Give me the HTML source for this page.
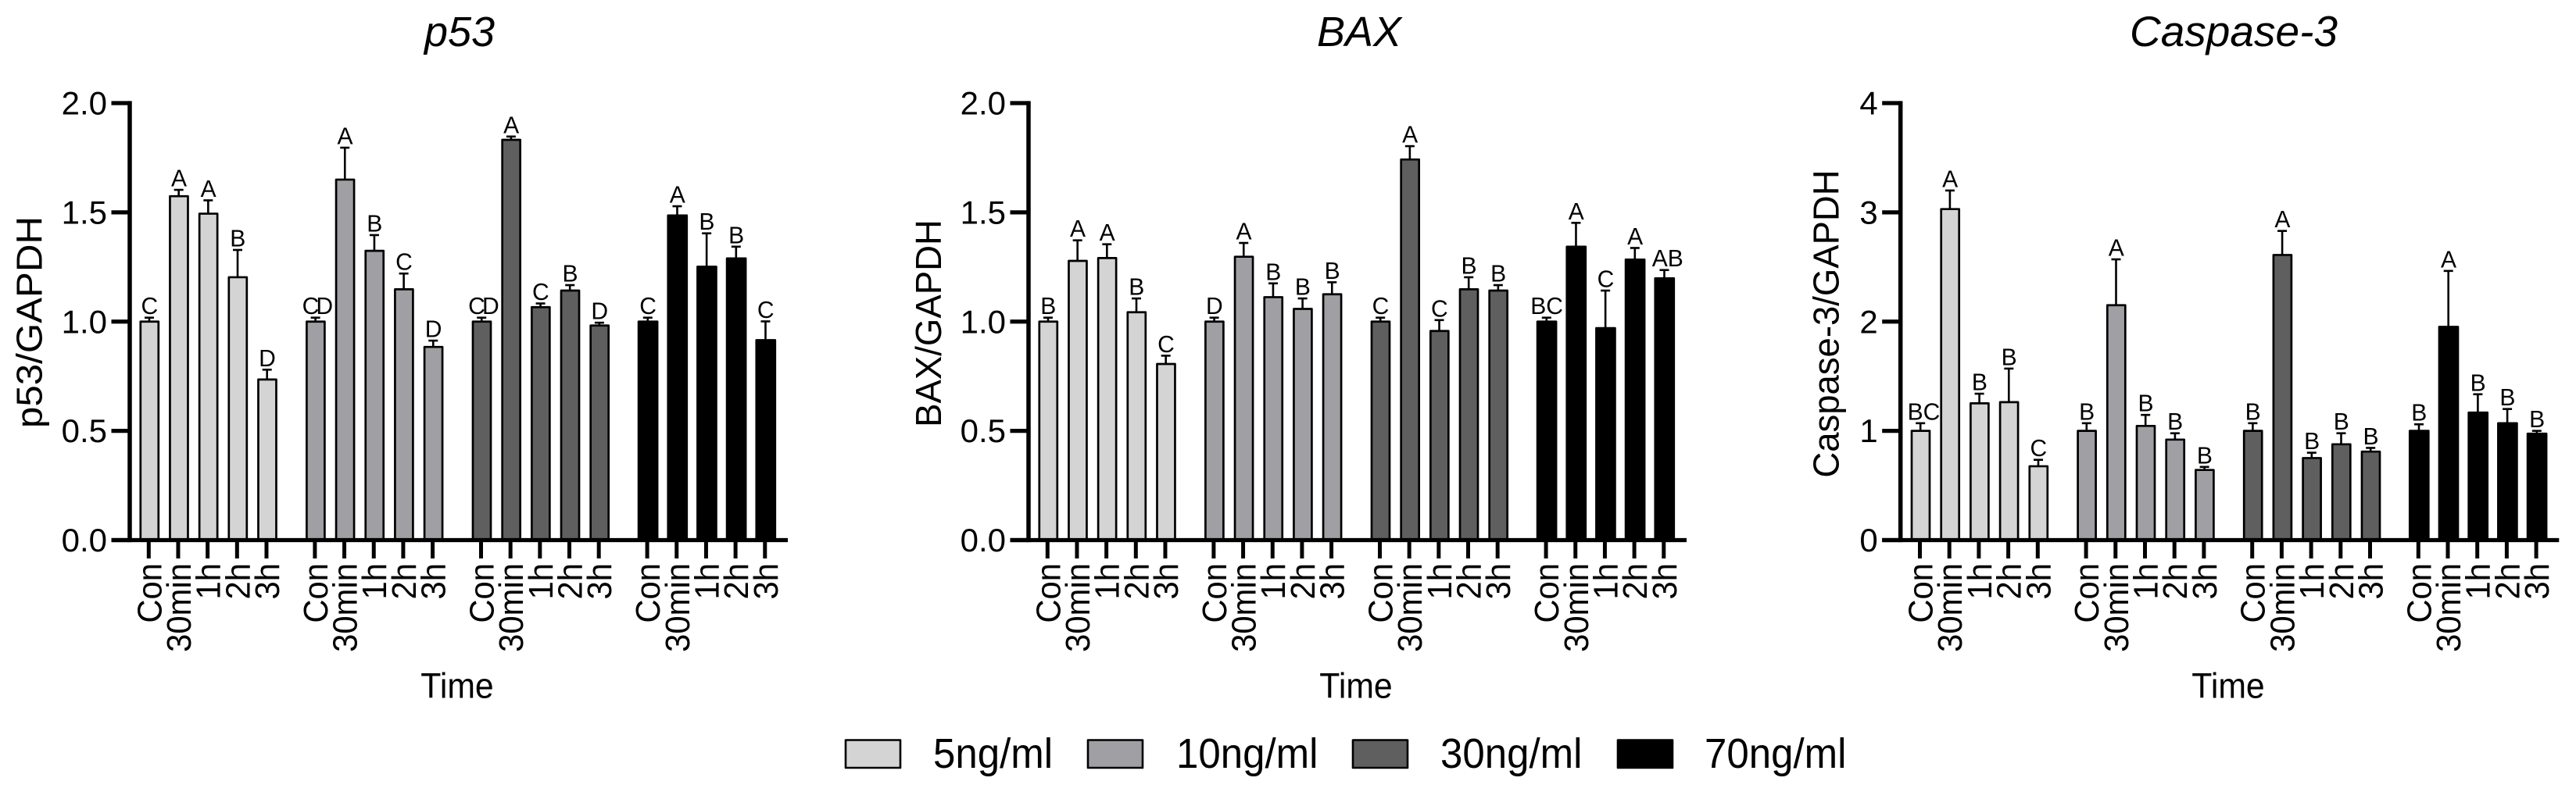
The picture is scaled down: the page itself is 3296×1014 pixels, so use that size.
<!DOCTYPE html>
<html lang="en">
<head>
<meta charset="utf-8">
<title>p53, BAX and Caspase-3 expression</title>
<style>
html,body{margin:0;padding:0;background:#fff;width:3296px;height:1014px;overflow:hidden}
svg{display:block}
text{font-family:"Liberation Sans",Arial,sans-serif;fill:#000}
</style>
</head>
<body>
<svg id="chart" xmlns="http://www.w3.org/2000/svg" width="3296" height="1014" viewBox="0 0 3296 1014"></svg>
<script>
const categories = ['Con','30min','1h','2h','3h','Con','30min','1h','2h','3h','Con','30min','1h','2h','3h','Con','30min','1h','2h','3h'];
const doses = ['5ng/ml','10ng/ml','30ng/ml','70ng/ml'];
const twoUnitTicks = ['0.0','0.5','1.0','1.5','2.0'];
const fourUnitTicks = ['0','1','2','3','4'];

const p53Values = [1.0,1.574,1.494,1.203,0.735, 1.0,1.65,1.324,1.148,0.884, 1.0,1.832,1.066,1.142,0.982, 1.0,1.486,1.251,1.289,0.915];
const p53Errors = [0.018,0.029,0.061,0.125,0.045, 0.018,0.146,0.072,0.072,0.029, 0.018,0.015,0.017,0.025,0.013, 0.018,0.042,0.153,0.054,0.086];
const p53Letters = ['C','A','A','B','D', 'CD','A','B','C','D', 'CD','A','C','B','D', 'C','A','B','B','C'];

const baxValues = [1.0,1.278,1.291,1.043,0.806, 1.0,1.297,1.112,1.058,1.125, 1.0,1.742,0.957,1.148,1.142, 1.0,1.343,0.97,1.284,1.198];
const baxErrors = [0.018,0.094,0.063,0.063,0.038, 0.018,0.063,0.063,0.048,0.055, 0.018,0.061,0.05,0.055,0.025, 0.018,0.109,0.172,0.053,0.038];
const baxLetters = ['B','A','A','B','C', 'D','A','B','B','B', 'C','A','C','B','B', 'BC','A','C','A','AB'];

const caspaseValues = [1.0,3.03,1.252,1.263,0.676, 1.0,2.15,1.045,0.92,0.642, 1.0,2.61,0.751,0.877,0.81, 1.0,1.952,1.167,1.07,0.974];
const caspaseErrors = [0.07,0.17,0.088,0.307,0.059, 0.07,0.42,0.101,0.058,0.028, 0.07,0.22,0.049,0.101,0.034, 0.06,0.512,0.168,0.13,0.026];
const caspaseLetters = ['BC','A','B','B','C', 'B','A','B','B','B', 'B','A','B','B','B', 'B','A','B','B','B'];

const SVG_NS = 'http://www.w3.org/2000/svg';
const root = document.getElementById('chart');
const doseColors = ['#d4d4d4','#a09fa3','#5f5f5f','#000000'];
const yTop = 132, yBase = 691.5;

function make(tag, attrs, parent, text) {
  const node = document.createElementNS(SVG_NS, tag);
  for (const key in attrs) node.setAttribute(key, attrs[key]);
  if (text !== undefined) node.textContent = text;
  parent.appendChild(node);
  return node;
}

function placeText(parent, x, y, rotation, stretch, size, anchor, content) {
  return make('text', {
    transform: 'translate(' + x + ',' + y + ') rotate(' + rotation + ') scale(' + stretch + ',1)',
    'font-size': size,
    'text-anchor': anchor
  }, parent, content);
}

function drawPanel(panel) {
  const g = make('g', {}, root);
  
  

  const xScale = i => panel.x0 + Math.floor(i / 5) * panel.groupStep + (i % 5) * panel.barStep;
  const yScale = v => yBase - (v / panel.yMax) * (yBase - yTop);

  const title = make('text', {x: panel.titleX, y: 59, 'font-size': panel.titleSize, 'font-style': 'italic', 'text-anchor': 'middle'}, g, panel.title);
  
  

  const yTitle = placeText(g, panel.yTitleX, panel.yTitleY, -90, panel.yTitleStretch, 46.5, 'middle', panel.yLabel);
  
  

  const xTitle = placeText(g, panel.timeX, 893.5, 0, 0.95, 45, 'middle', 'Time');
  
  

  panel.values.forEach((value, i) => {
    const cx = xScale(i);
    const top = yScale(value);
    const errTop = yScale(value + panel.errors[i]);
    const dose = Math.floor(i / 5);
    const barWidth = dose === 3 ? 24 : 23;

    const stem = make('line', {x1: cx + 0.7, x2: cx + 0.7, y1: top, y2: errTop, stroke: '#000', 'stroke-width': 2.6}, g);
    
    

    const cap = make('line', {x1: cx - 5.3, x2: cx + 6.7, y1: errTop, y2: errTop, stroke: '#000', 'stroke-width': 2.6}, g);
    
    

    const bar = make('rect', {x: cx + 1 - barWidth / 2, y: top, width: barWidth, height: yBase - top, fill: doseColors[dose], stroke: '#000', 'stroke-width': 2.7, 'stroke-linejoin': 'round'}, g);
    
    

    const letter = panel.letters[i];
    const sig = placeText(g, cx + 1 + (panel.labelNudge[i] || 0), errTop - 4.5, 0, 0.97, 31, 'middle', letter);
    if (letter === 'CD') sig.setAttribute('letter-spacing', '-4');
    
    

    const tick = make('line', {x1: cx, x2: cx, y1: yBase, y2: 715, stroke: '#000', 'stroke-width': 5}, g);
    
    

    const tickLabel = placeText(g, cx + 16, 721, -90, 0.95, 44, 'end', categories[i]);
    
    
  });

  const yAxis = make('line', {x1: panel.axisX, x2: panel.axisX, y1: yTop - 2.6, y2: yBase + 2.6, stroke: '#000', 'stroke-width': 5.5}, g);
  
  

  const xAxis = make('line', {x1: panel.axisX - 23.5, x2: panel.axisEnd, y1: yBase, y2: yBase, stroke: '#000', 'stroke-width': 5.2}, g);
  
  

  panel.ticks.forEach(label => {
    const y = yScale(parseFloat(label));
    const yTick = make('line', {x1: panel.axisX - 23.5, x2: panel.axisX, y1: y, y2: y, stroke: '#000', 'stroke-width': 5.3}, g);
    
    

    const yTickLabel = placeText(g, panel.axisX - 29, y + 14.5, 0, 1, 42, 'end', label);
    
    
  });
}

function drawLegend() {
  const g = make('g', {}, root);
  
  
  const boxX = [1082, 1392, 1731, 2070];
  const textX = [1194, 1505, 1843, 2181];
  doses.forEach((dose, i) => {
    const swatch = make('rect', {x: boxX[i], y: 947.5, width: 70, height: 35.5, fill: doseColors[i], stroke: '#000', 'stroke-width': 2.6, 'stroke-linejoin': 'round'}, g);
    
    

    const label = placeText(g, textX[i], 983, 0, 0.945, 54, 'start', dose);
    
    
  });
}

drawPanel({key:'p53', title:'p53', titleSize:54, yLabel:'p53/GAPDH', values:p53Values, errors:p53Errors, letters:p53Letters, ticks:twoUnitTicks, yMax:2,
  labelNudge:{5:0.5, 10:0.5},
  x0:190.3, barStep:37.67, groupStep:212.6, axisX:166, axisEnd:1008, titleX:588, timeX:585, yTitleX:53.3, yTitleY:412.5, yTitleStretch:1.06});
drawPanel({key:'bax', title:'BAX', titleSize:54, yLabel:'BAX/GAPDH', values:baxValues, errors:baxErrors, letters:baxLetters, ticks:twoUnitTicks, yMax:2,
  labelNudge:{19:4},
  x0:1340.3, barStep:37.67, groupStep:212.6, axisX:1316, axisEnd:2158, titleX:1739, timeX:1735, yTitleX:1204, yTitleY:414, yTitleStretch:0.98});
drawPanel({key:'caspase-3', title:'Caspase-3', titleSize:55, yLabel:'Caspase-3/GAPDH', values:caspaseValues, errors:caspaseErrors, letters:caspaseLetters, ticks:fourUnitTicks, yMax:4,
  labelNudge:{0:4},
  x0:2456.5, barStep:37.7, groupStep:212.6, axisX:2431.7, axisEnd:3274.3, titleX:2858, timeX:2851, yTitleX:2352.3, yTitleY:414.5, yTitleStretch:0.978});
drawLegend();
</script>
</body>
</html>
